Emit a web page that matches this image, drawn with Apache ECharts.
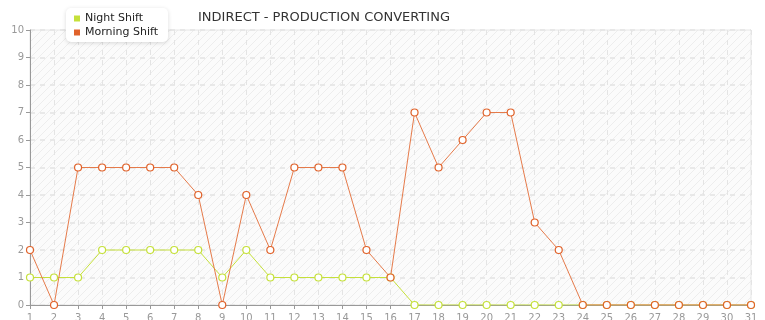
<!DOCTYPE html>
<html><head><meta charset="utf-8">
<script src="https://cdn.jsdelivr.net/npm/echarts@6/dist/echarts.min.js"></script>
<style>html,body{margin:0;padding:0;background:#fff}#c{width:765px;height:320px}</style>
</head><body><div id="c"></div>
<script>
const days = ['1','2','3','4','5','6','7','8','9','10','11','12','13','14','15','16','17','18','19','20','21','22','23','24','25','26','27','28','29','30','31'];
const nightShift = [1,1,1,2,2,2,2,2,1,2,1,1,1,1,1,1,0,0,0,0,0,0,0,0,0,0,0,0,0,0,0];
const morningShift = [2,0,5,5,5,5,5,4,0,4,2,5,5,5,2,1,7,5,6,7,7,3,2,0,0,0,0,0,0,0,0];
const seriesNames = ['Night Shift','Morning Shift'];
const seriesColors = ['#c5e03a','#e0622a'];
const titleText = 'INDIRECT - PRODUCTION CONVERTING';

const pc = document.createElement('canvas');
pc.width = 8; pc.height = 8;
const g = pc.getContext('2d');
g.fillStyle = '#fbfbfb'; g.fillRect(0,0,8,8);
g.strokeStyle = '#ededed'; g.lineWidth = 1;
g.beginPath(); g.moveTo(0,8); g.lineTo(8,0); g.moveTo(-4,4); g.lineTo(4,-4); g.moveTo(4,12); g.lineTo(12,4); g.stroke();

const chart = echarts.init(document.getElementById('c'));
const font = 'DejaVu Sans';
chart.setOption({
  animation:false,
  title:{text:titleText,left:193,top:6,textStyle:{fontFamily:font,fontSize:13,fontWeight:'normal',color:'#333'}},
  legend:{data:seriesNames.map((n,i)=>({name:n,itemStyle:{color:seriesColors[i],borderWidth:0}})),
    orient:'vertical',left:66,top:8,padding:[5,10,4,8],itemGap:3,itemWidth:6,itemHeight:6,icon:'rect',
    backgroundColor:'#fff',borderRadius:5,shadowColor:'rgba(0,0,0,0.15)',shadowBlur:4,shadowOffsetY:1,
    textStyle:{fontFamily:font,fontSize:11,color:'#222'}},
  grid:{left:30,right:14,top:30,bottom:15,outerBoundsMode:'none',containLabel:false,show:true,backgroundColor:{image:pc,repeat:'repeat'},borderColor:'#e6e6e6',borderWidth:1},
  xAxis:{type:'category',data:days,boundaryGap:false,
    axisLine:{lineStyle:{color:'#999'}},axisTick:{show:true,alignWithLabel:true,length:4,lineStyle:{color:'#999'}},
    axisLabel:{fontFamily:font,fontSize:10,color:'#999',margin:8,interval:0},
    splitLine:{show:true,lineStyle:{color:'#e4e4e4',type:[5,5]}}},
  yAxis:{type:'value',min:0,max:10,interval:1,
    axisLine:{show:true,lineStyle:{color:'#999'}},axisTick:{show:true,length:4,lineStyle:{color:'#999'}},
    axisLabel:{fontFamily:font,fontSize:10,color:'#999',margin:6},
    splitLine:{show:true,lineStyle:{color:'#e4e4e4',type:[5,5],width:1.5}}},
  series:[
    {name:seriesNames[0],type:'line',data:nightShift,color:seriesColors[0],symbol:'circle',symbolSize:7,
      lineStyle:{width:1,color:seriesColors[0]},itemStyle:{color:'#fff',borderColor:seriesColors[0],borderWidth:1.2}},
    {name:seriesNames[1],type:'line',data:morningShift,color:seriesColors[1],symbol:'circle',symbolSize:7,
      lineStyle:{width:1,color:'#e57a4a'},itemStyle:{color:'#fff',borderColor:seriesColors[1],borderWidth:1.2}}
  ]
});
</script></body></html>
